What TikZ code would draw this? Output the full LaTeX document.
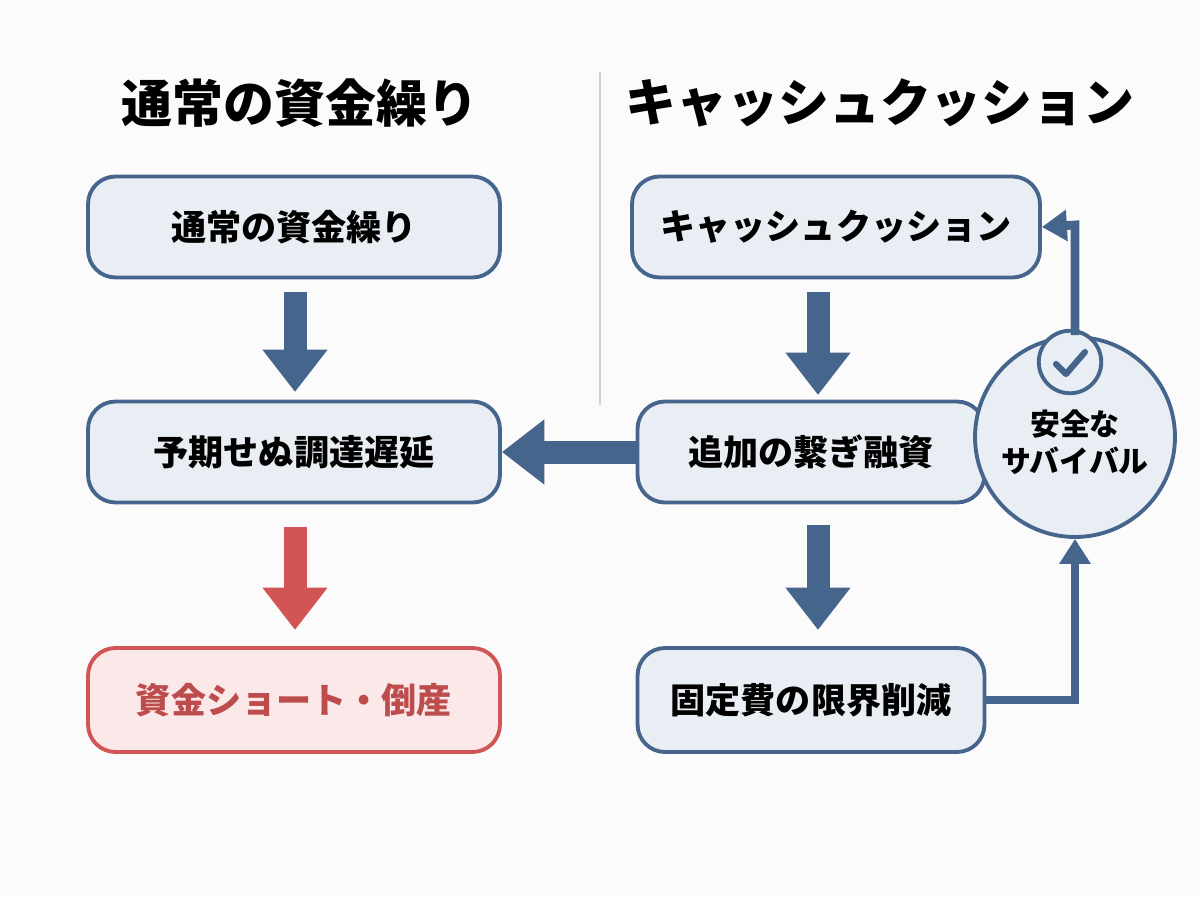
\documentclass[tikz,border=0pt]{standalone}
\usepackage{fontspec}
\setmainfont{Noto Sans CJK JP}
\usetikzlibrary{arrows.meta}
\definecolor{navy}{HTML}{45658D}
\definecolor{boxfill}{HTML}{E9EEF5}
\definecolor{redline}{HTML}{D25555}
\definecolor{redfill}{HTML}{FBE8E8}
\begin{document}
\begin{tikzpicture}[x=0.02cm,y=-0.02cm,
    box/.style={draw=navy, fill=boxfill, line width=2.2pt, rounded corners=0.55cm, font=\fontsize{20}{22}\selectfont\bfseries},
    big/.style={line width=0.46cm, -{Triangle[length=0.85cm,width=1.25cm]}},
    thin/.style={draw=navy, line width=5pt, -{Triangle[length=0.5cm,width=0.6cm]}}]
    \fill[white!97!gray] (0,0) rectangle (1200,896);

    \node[font=\fontsize{29}{32}\selectfont\bfseries] (T1) at (300,103) {通常の資金繰り};
    \node[font=\fontsize{29}{32}\selectfont\bfseries] (T2) at (880,103) {キャッシュクッション};
    \draw[gray!35, line width=1pt] (600,72) -- (600,405);

    \node[box, minimum width=8.24cm, minimum height=2.02cm] (A) at (294,227) {通常の資金繰り};
    \node[box, minimum width=8.24cm, minimum height=2.02cm] (B) at (294,452) {予期せぬ調達遅延};
    \node[box, draw=redline, fill=redfill, text=redline!90!black, minimum width=8.24cm, minimum height=2.08cm] (C) at (294,700) {資金ショート・倒産};

    \node[box, minimum width=8.16cm, minimum height=2.02cm] (D) at (836,227) {キャッシュクッション};
    \node[box, minimum width=6.94cm, minimum height=2.02cm] (E) at (811,452) {追加の繋ぎ融資};
    \node[box, minimum width=6.94cm, minimum height=2.08cm] (F) at (811,700) {固定費の限界削減};

    \node[circle, draw=navy, fill=boxfill, line width=2.2pt, minimum size=4cm, align=center,
          font=\fontsize{17}{21}\selectfont\bfseries] (G) at (1075,437) {\\安全な\\サバイバル};
    \node[circle, draw=navy, fill=boxfill, line width=2.2pt, minimum size=1.25cm] (H) at (1070,362) {};
    \draw[navy, line width=3.5pt, line cap=round, line join=round] (1056,364) -- (1066,374) -- (1085,352);

    \coordinate (P1) at (1075,700);
    \coordinate (P2) at (1075,225);

    \draw[big, navy] (295,292) -- (295,392);
    \draw[big, redline] (295,527) -- (295,630);
    \draw[big, navy] (818,292) -- (818,395);
    \draw[big, navy] (818,525) -- (818,630);
    \draw[big, navy] (E.west) -- (B.east);
    \draw[thin] (F.east) -- (P1) -- (G.south);
    \draw[thin] (G.north) -- (P2) -- (D.east);
\end{tikzpicture}
\end{document}
